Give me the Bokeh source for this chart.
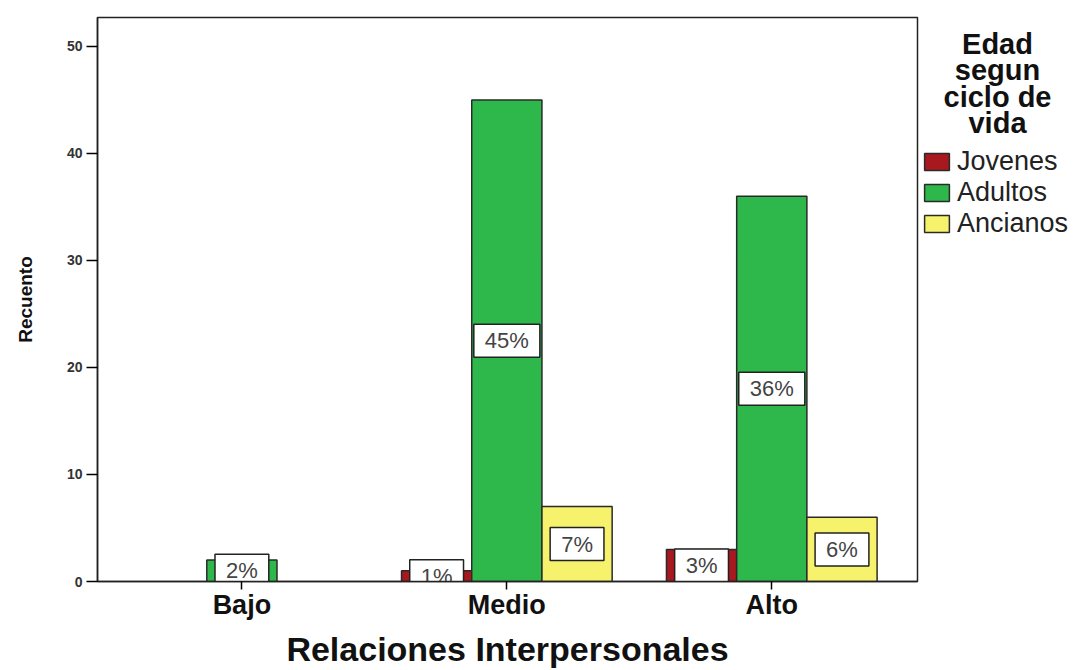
import numpy as np
from bokeh.plotting import figure
from bokeh.models import ColumnDataSource, Range1d, FixedTicker, Legend, LegendItem, Label
from bokeh.layouts import row
from bokeh.embed import file_html
from bokeh.resources import INLINE
from bokeh.core.properties import value

# ---- data ----
categories = ["Bajo", "Medio", "Alto"]
series = ["Jovenes", "Adultos", "Ancianos"]
jovenes = [0, 1, 3]
adultos = [2, 45, 36]
ancianos = [0, 7, 6]
y_ticks = [0, 10, 20, 30, 40, 50]
legend_title_lines = ["Edad", "segun", "ciclo de", "vida"]
x_title = "Relaciones Interpersonales"
y_title = "Recuento"

colors = ["#a8181f", "#2eb84b", "#f7f26c"]
values = [jovenes, adultos, ancianos]
total = sum(sum(v) for v in values)

BAR_W = 0.265
offsets = [-BAR_W, 0.0, BAR_W]
centers = [i + 0.5 for i in range(len(categories))]

FONT = "Liberation Sans"
EDGE = "#2a2a2a"

MAIN_W, H, SIDE_W = 919, 670, 161
FRAME_BOTTOM = 88  # px below the plotting frame

p = figure(width=MAIN_W, height=H,
           x_range=Range1d(-0.045, 3.05), y_range=Range1d(0, 52.7),
           output_backend="svg", toolbar_location=None,
           min_border_left=97, min_border_right=2,
           min_border_top=17, min_border_bottom=FRAME_BOTTOM)
p.background_fill_color = "white"
p.border_fill_color = "white"
p.outline_line_color = "#222222"
p.outline_line_width = 1.5
p.xgrid.visible = False
p.ygrid.visible = False

for s, vals, col, off in zip(series, values, colors, offsets):
    xs, tops, mids, labels = [], [], [], []
    for c, v in zip(centers, vals):
        if v > 0:
            xs.append(c + off)
            tops.append(v)
            mids.append(v / 2)
            labels.append(f"{round(v / total * 100)}%")
    src = ColumnDataSource(dict(x=xs, top=tops, mid=mids, label=labels))
    p.vbar(x="x", top="top", bottom=0, width=BAR_W, source=src,
           fill_color=col, line_color=EDGE, line_width=1.5)
    p.text(x="x", y="mid", text="label", source=src,
           text_align="center", text_baseline="middle",
           text_font=value(FONT), text_font_size="22px", text_color="#444444",
           background_fill_color="white", border_line_color="#222222",
           border_line_width=1.5, padding=(11, 4))

# axes
xa = p.xaxis[0]
xa.ticker = FixedTicker(ticks=centers)
xa.major_label_overrides = {c: n for c, n in zip(centers, categories)}
xa.axis_line_width = 1.5
xa.axis_line_color = "#222222"
xa.major_tick_out = 8
xa.major_tick_in = 0
xa.major_tick_line_width = 1.5
xa.minor_tick_out = 0
xa.minor_tick_in = 0
xa.major_label_standoff = 0
xa.major_label_text_font = FONT
xa.major_label_text_font_size = "27px"
xa.major_label_text_font_style = "bold"
xa.major_label_text_color = "#111111"
xa.axis_label = x_title
xa.axis_label_text_font = FONT
xa.axis_label_text_font_size = "34px"
xa.axis_label_text_font_style = "bold"
xa.axis_label_text_color = "#111111"
xa.axis_label_standoff = 7

ya = p.yaxis[0]
ya.ticker = FixedTicker(ticks=y_ticks)
ya.axis_line_width = 1.5
ya.axis_line_color = "#222222"
ya.major_tick_out = 11
ya.major_tick_in = 0
ya.major_tick_line_width = 1.5
ya.minor_tick_out = 0
ya.minor_tick_in = 0
ya.major_label_standoff = 4
ya.major_label_text_font = FONT
ya.major_label_text_font_size = "14px"
ya.major_label_text_font_style = "bold"
ya.major_label_text_color = "#333333"
ya.axis_label = y_title
ya.axis_label_text_font = FONT
ya.axis_label_text_font_size = "19px"
ya.axis_label_text_font_style = "bold"
ya.axis_label_text_color = "#111111"
ya.axis_label_standoff = 28

# ---- legend panel (right); its frame is aligned with the main frame ----
side = figure(width=SIDE_W, height=H, x_range=Range1d(0, 1), y_range=Range1d(0, 1),
              output_backend="svg", toolbar_location=None,
              x_axis_location=None, y_axis_location=None,
              min_border_left=0, min_border_right=0,
              min_border_top=17, min_border_bottom=FRAME_BOTTOM)
side.outline_line_color = None
side.grid.visible = False
side.background_fill_color = "white"
side.border_fill_color = "white"

# legend swatch carriers (NaN data: nothing drawn, only legend swatches)
swatches = [side.vbar(x=[np.nan], top=[np.nan], width=1, fill_color=col,
                      line_color=EDGE, line_width=1.5) for col in colors]
legend = Legend(items=[LegendItem(label=s, renderers=[r]) for s, r in zip(series, swatches)],
                location=(2, 342), orientation="vertical",
                glyph_width=31, glyph_height=21, label_height=21,
                spacing=0, label_standoff=5, padding=0, margin=0,
                border_line_color=None, background_fill_alpha=0,
                label_text_font=FONT, label_text_font_size="27px",
                label_text_color="#222222")
side.add_layout(legend, "center")

baselines = [538, 512, 485, 459]  # screen px above the frame bottom
for line, yb in zip(legend_title_lines, baselines):
    side.add_layout(Label(x=78, y=yb, x_units="screen", y_units="screen", text=line,
                          text_align="center", text_baseline="alphabetic",
                          text_font=FONT, text_font_size="29px",
                          text_font_style="bold", text_color="#111111"))

layout = row(p, side, spacing=0)
open("out.html", "w").write(file_html(layout, INLINE))
